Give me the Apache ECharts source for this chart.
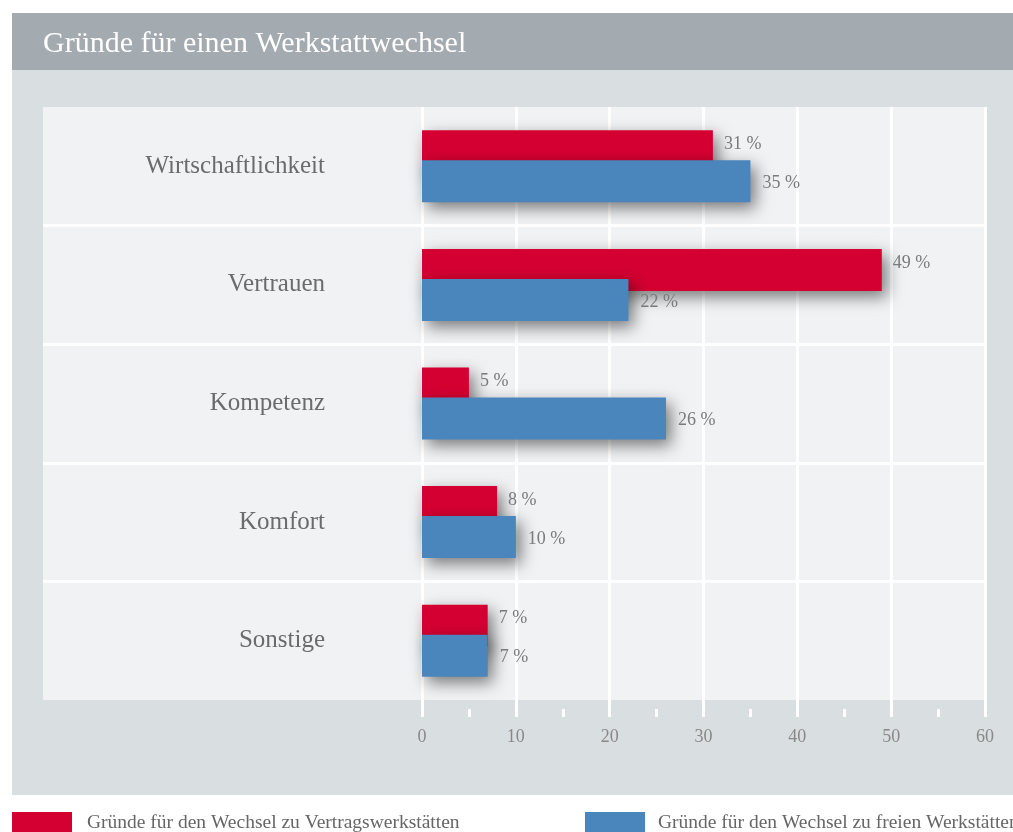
<!DOCTYPE html>
<html>
<head>
<meta charset="utf-8">
<script src="https://cdn.jsdelivr.net/npm/echarts@6/dist/echarts.min.js"></script>
<style>html,body{margin:0;padding:0;background:#fff}#c{width:1013px;height:832px}</style>
</head>
<body>
<div id="c"></div>
<script>
const categories = ['Wirtschaftlichkeit', 'Vertrauen', 'Kompetenz', 'Komfort', 'Sonstige'];
const seriesNames = ['Gründe für den Wechsel zu Vertragswerkstätten', 'Gründe für den Wechsel zu freien Werkstätten'];
const vertragsValues = [31, 49, 5, 8, 7];
const freieValues = [35, 22, 26, 10, 7];
const titleText = 'Gründe für einen Werkstattwechsel';

const FONT = '"Liberation Serif", "DejaVu Serif", serif';
const chart = echarts.init(document.getElementById('c'), null, {renderer: 'canvas'});

chart.setOption({
  backgroundColor: '#ffffff',
  animation: false,
  textStyle: {fontFamily: FONT},
  graphic: [
    {type: 'rect', z: -10, shape: {x: 12, y: 13, width: 1001, height: 57}, style: {fill: '#a3aab0'}},
    {type: 'rect', z: -10, shape: {x: 12, y: 70, width: 1001, height: 725}, style: {fill: '#d9dfe1'}}
  ],
  title: {
    text: titleText, left: 43, top: 29, padding: 0,
    textStyle: {color: '#ffffff', fontSize: 30, fontWeight: 'normal', fontFamily: FONT}
  },
  legend: [
    {data: [seriesNames[0]], left: 12, top: 812, padding: 0, itemWidth: 60, itemHeight: 22, icon: 'rect',
     textStyle: {fontSize: 19.5, color: '#666', fontFamily: FONT, padding: [0, 0, 0, 10]}},
    {data: [seriesNames[1]], left: 585, top: 812, padding: 0, itemWidth: 60, itemHeight: 22, icon: 'rect',
     textStyle: {fontSize: 19.5, color: '#666', fontFamily: FONT, padding: [0, 0, 0, 8]}}
  ],
  grid: [
    {left: 43, right: 26, top: 107, bottom: 132, show: true, backgroundColor: '#f1f2f4', borderWidth: 0, z: -5},
    {left: 422, right: 28, top: 107, bottom: 132}
  ],
  xAxis: [
    {type: 'value', gridIndex: 1, min: 0, max: 60, interval: 10,
     axisLine: {show: false},
     axisTick: {show: true, length: 17, lineStyle: {color: '#ffffff', width: 3}},
     splitLine: {show: true, lineStyle: {color: '#ffffff', width: 3}},
     axisLabel: {color: '#888', fontSize: 18, margin: 28, fontFamily: FONT}},
    {type: 'value', gridIndex: 1, min: 0, max: 60, interval: 5, offset: 9, position: 'bottom',
     axisLine: {show: false},
     axisTick: {show: true, length: 8, lineStyle: {color: '#ffffff', width: 3}},
     splitLine: {show: false}, axisLabel: {show: false}},
    {type: 'value', gridIndex: 0, show: false, min: 0, max: 1}
  ],
  yAxis: [
    {type: 'value', gridIndex: 0, min: 0, max: categories.length, interval: 1,
     axisLine: {show: false}, axisTick: {show: false}, axisLabel: {show: false},
     splitLine: {show: true, showMinLine: false, showMaxLine: false, lineStyle: {color: '#ffffff', width: 3}}},
    {type: 'category', gridIndex: 1, data: categories, inverse: true,
     axisLine: {show: false}, axisTick: {show: false}, splitLine: {show: false},
     axisLabel: {color: '#6b6b6b', fontSize: 25, margin: 97, fontFamily: FONT}}
  ],
  series: [
    {name: seriesNames[0], type: 'bar', xAxisIndex: 0, yAxisIndex: 1, data: vertragsValues,
     barWidth: 42, barGap: '-28.6%',
     itemStyle: {color: '#d40031', shadowBlur: 16, shadowColor: 'rgba(0,0,0,0.5)', shadowOffsetX: 5, shadowOffsetY: 6},
     label: {show: true, position: 'right', distance: 11, offset: [0, -7], formatter: '{c} %',
             color: '#7a7a7a', fontSize: 18, fontFamily: FONT}},
    {name: seriesNames[1], type: 'bar', xAxisIndex: 0, yAxisIndex: 1, data: freieValues,
     barWidth: 42, barGap: '-28.6%',
     itemStyle: {color: '#4a85bb', shadowBlur: 16, shadowColor: 'rgba(0,0,0,0.5)', shadowOffsetX: 5, shadowOffsetY: 6},
     label: {show: true, position: 'right', distance: 12, offset: [0, 2], formatter: '{c} %',
             color: '#7a7a7a', fontSize: 18, fontFamily: FONT}}
  ]
});
</script>
</body>
</html>
